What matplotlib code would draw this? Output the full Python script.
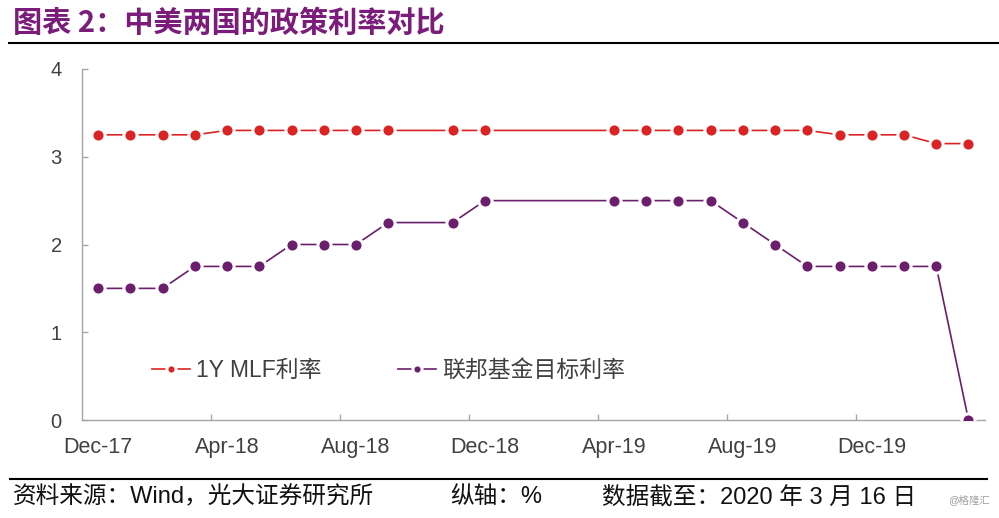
import matplotlib
matplotlib.use('Agg')
import matplotlib.pyplot as plt
from matplotlib.lines import Line2D
import pandas as pd

plt.rcParams['font.family'] = ['Liberation Sans', 'Noto Sans CJK SC']

# 数据（月度，部分月份缺失）
months = ['2017-12', '2018-01', '2018-02', '2018-03', '2018-04', '2018-05',
          '2018-06', '2018-07', '2018-08', '2018-09', '2018-11', '2018-12',
          '2019-04', '2019-05', '2019-06', '2019-07', '2019-08', '2019-09',
          '2019-10', '2019-11', '2019-12', '2020-01', '2020-02', '2020-03']
mlf_rate = [3.25, 3.25, 3.25, 3.25, 3.30, 3.30, 3.30, 3.30, 3.30, 3.30, 3.30, 3.30,
            3.30, 3.30, 3.30, 3.30, 3.30, 3.30, 3.30, 3.25, 3.25, 3.25, 3.15, 3.15]
fed_rate = [1.50, 1.50, 1.50, 1.75, 1.75, 1.75, 2.00, 2.00, 2.00, 2.25, 2.25, 2.50,
            2.50, 2.50, 2.50, 2.50, 2.25, 2.00, 1.75, 1.75, 1.75, 1.75, 1.75, 0.00]
tick_months = ['2017-12', '2018-04', '2018-08', '2018-12', '2019-04', '2019-08', '2019-12']
y_ticks = [0, 1, 2, 3, 4]
series_names = ['1Y MLF利率', '联邦基金目标利率']

title = '图表 2：中美两国的政策利率对比'
source_note = '资料来源：Wind，光大证券研究所'
unit_note = '纵轴：%'
date_note = '数据截至：2020 年 3 月 16 日'
watermark = '@格隆汇'

# 月份转成序号
base = pd.Period(months[0], 'M')
x = [(pd.Period(m, 'M') - base).n for m in months]
tick_x = [(pd.Period(m, 'M') - base).n for m in tick_months]
tick_labels = [pd.Period(m, 'M').strftime('%b-%y') for m in tick_months]

W, H = 999, 518
fig = plt.figure(figsize=(W / 100, H / 100), dpi=100)
ax = fig.add_axes([82 / W, 1 - 420 / H, 902.6 / W, 351 / H])

red = '#DC2323'
purple = '#6B1E6B'
axis_grey = '#A6A6A6'
txt_grey = '#404040'

l1, = ax.plot(x, mlf_rate, color=red, lw=1.2, marker='o', ms=9.5,
              mfc=red, mec='white', mew=2.2, zorder=3)
l2, = ax.plot(x, fed_rate, color=purple, lw=1.2, marker='o', ms=9.5,
              mfc=purple, mec='white', mew=2.2, zorder=4)

ax.set_xlim(x[0] - 0.5, x[-1] + 0.5)
ax.set_ylim(0, 4)
ax.set_yticks(y_ticks)
ax.set_xticks(tick_x)
ax.set_xticklabels(tick_labels)
ax.set_xticks([t - 0.5 for t in tick_x[1:]], minor=True)

for s in ['top', 'right']:
    ax.spines[s].set_visible(False)
for s in ['left', 'bottom']:
    ax.spines[s].set_color(axis_grey)
    ax.spines[s].set_linewidth(1.0)

ax.tick_params(axis='x', which='major', length=0, pad=12, labelsize=15.5, labelcolor=txt_grey)
ax.tick_params(axis='x', which='minor', direction='in', length=4.5, width=1.0, color=axis_grey)
ax.tick_params(axis='y', direction='in', length=4.5, width=1.0, color=axis_grey,
               pad=14.5, labelsize=14.5, labelcolor=txt_grey)

leg = ax.legend([l1, l2], series_names, loc='center left', bbox_to_anchor=(0.0776, 0.1405),
                ncol=2, frameon=False, fontsize=16.5, handlelength=1.66, handletextpad=0.26,
                columnspacing=3.35, borderpad=0, borderaxespad=0, markerscale=0.7)
for t in leg.get_texts():
    t.set_color(txt_grey)

# 标题与分隔线
fig.text(13 / W, 1 - 23 / H, title, ha='left', va='center', color='#7B1C7B',
         fontsize=21, fontweight='bold', family=['Noto Sans CJK SC', 'Liberation Sans'])
fig.add_artist(Line2D([9 / W, 1], [1 - 43 / H] * 2, color='black', lw=1.5))
fig.add_artist(Line2D([10 / W, 987 / W], [1 - 479 / H] * 2, color='black', lw=1.5))

# 脚注
fy = 1 - 497 / H
fig.text(13 / W, fy, source_note, ha='left', va='center', fontsize=17, color='#111111')
fig.text(450 / W, fy, unit_note, ha='left', va='center', fontsize=17, color='#111111')
fig.text(602 / W, fy, date_note, ha='left', va='center', fontsize=17, color='#111111')
fig.text(990 / W, 1 - 500 / H, watermark, ha='right', va='center', fontsize=7.5, color='#A0A0A0')

fig.savefig('out.png', dpi=100)
